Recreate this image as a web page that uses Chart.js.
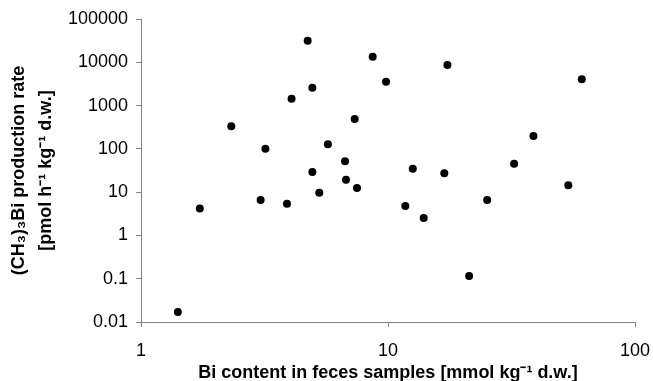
<!DOCTYPE html>
<html>
<head>
<meta charset="utf-8">
<script src="https://cdn.jsdelivr.net/npm/chart.js@4/dist/chart.umd.min.js"></script>
<style>
  html, body { margin: 0; padding: 0; background: #fff; }
  #wrap { width: 653px; height: 381px; }
</style>
</head>
<body>
<div id="wrap"><canvas id="c" width="653" height="381"></canvas></div>
<script>
// Bi content in feces samples [mmol kg-1 d.w.]
const biContent = [1.41, 1.73, 2.32, 3.19, 3.05, 3.90, 4.07, 4.73, 4.94, 4.94, 5.27, 5.71, 8.67, 9.82, 7.33, 6.70, 6.76, 7.49, 12.6, 16.9, 32.4, 38.8, 17.4, 60.9, 53.7, 25.2, 11.75, 13.95, 21.3];
// (CH3)3Bi production rate [pmol h-1 kg-1 d.w.]
const productionRate = [0.017, 4.2, 331, 100, 6.6, 5.4, 1440, 31600, 2590, 29.3, 9.7, 128, 13400, 3570, 491, 51.7, 19.4, 12.5, 34.9, 27.3, 45.5, 199, 8660, 4050, 14.4, 6.6, 4.8, 2.54, 0.116];

const xTicks = [1, 10, 100];
const xTickLabels = ['1', '10', '100'];
const yTicks = [0.01, 0.1, 1, 10, 100, 1000, 10000, 100000];
const yTickLabels = ['0.01', '0.1', '1', '10', '100', '1000', '10000', '100000'];

const xTitle = 'Bi content in feces samples [mmol kg\u207B\u00B9 d.w.]';
const yTitle = ['(CH\u2083)\u2083Bi production rate', '[pmol h\u207B\u00B9 kg\u207B\u00B9 d.w.]'];

const points = biContent.map((x, i) => ({ x: x, y: productionRate[i] }));
const FONT = "'Liberation Sans', Arial, Helvetica, sans-serif";
const AXIS = '#808080';

new Chart(document.getElementById('c'), {
  type: 'scatter',
  data: {
    datasets: [{
      data: points,
      backgroundColor: '#000',
      borderColor: '#000',
      borderWidth: 0,
      pointRadius: 4,
      pointHoverRadius: 4
    }]
  },
  options: {
    responsive: false,
    animation: false,
    events: [],
    layout: { padding: { left: 0, right: 18, top: 19, bottom: 0 } },
    plugins: { legend: { display: false }, tooltip: { enabled: false } },
    scales: {
      x: {
        type: 'logarithmic',
        min: 1,
        max: 100,
        afterBuildTicks: s => { s.ticks = xTicks.map(v => ({ value: v })); },
        afterFit: s => { s.height = 59; s.paddingLeft = 0; s.paddingRight = 0; },
        grid: { display: true, drawOnChartArea: false, drawTicks: true, tickLength: 5, color: AXIS, lineWidth: 1 },
        border: { display: true, color: AXIS, width: 1 },
        ticks: {
          autoSkip: false,
          maxRotation: 0,
          padding: 13,
          color: '#000',
          font: { family: FONT, size: 18 },
          callback: (v, i) => xTickLabels[i]
        },
        title: {
          display: true,
          text: xTitle,
          color: '#000',
          font: { family: FONT, size: 18, weight: 'bold', lineHeight: 0.9 },
          padding: { top: 0, bottom: 0 }
        }
      },
      y: {
        type: 'logarithmic',
        min: 0.01,
        max: 100000,
        afterBuildTicks: s => { s.ticks = yTicks.map(v => ({ value: v })); },
        afterFit: s => { s.width = 141; s.paddingTop = 0; s.paddingBottom = 0; },
        grid: { display: true, drawOnChartArea: false, drawTicks: true, tickLength: 5, color: AXIS, lineWidth: 1 },
        border: { display: true, color: AXIS, width: 1 },
        ticks: {
          autoSkip: false,
          padding: 8,
          color: '#000',
          font: { family: FONT, size: 18 },
          callback: (v, i) => yTickLabels[i]
        },
        title: {
          display: true,
          text: yTitle,
          color: '#000',
          font: { family: FONT, size: 18, weight: 'bold', lineHeight: 1.5 },
          padding: { top: 6, bottom: 0 }
        }
      }
    }
  }
});
</script>
</body>
</html>
